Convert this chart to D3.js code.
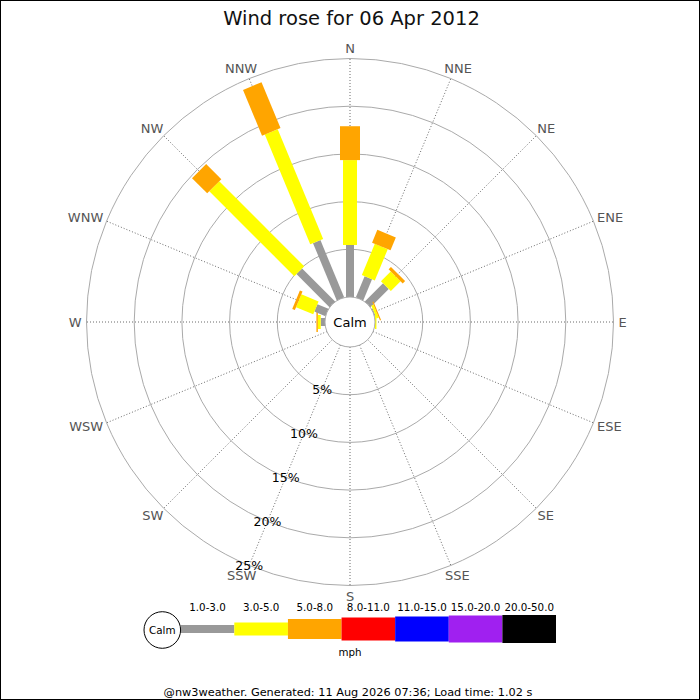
<!DOCTYPE html>
<html>
<head>
<meta charset="utf-8">
<script src="https://cdn.jsdelivr.net/npm/d3@7"></script>
<style>
  body { margin: 0; background: #fff; }
  svg { display: block; font-family: "DejaVu Sans", sans-serif; }
</style>
</head>
<body>
<div id="chart"></div>
<script>
// Compass points, clockwise from north
const directions = ["N", "NNE", "NE", "ENE", "E", "ESE", "SE", "SSE",
                    "S", "SSW", "SW", "WSW", "W", "WNW", "NW", "NNW"];
const speedBins = ["1.0-3.0", "3.0-5.0", "5.0-8.0", "8.0-11.0", "11.0-15.0", "15.0-20.0", "20.0-50.0"];

// % of time per direction, one array per speed bin (same order as directions)
const bin1to3   = [5.45, 2.4, 2.7, 0.1, 0, 0, 0, 0, 0, 0, 0, 0, 0.45, 1.25, 4.9, 6.5];
const bin3to5   = [8.9, 3.55, 1.45, 0.25, 0.15, 0, 0, 0, 0, 0, 0, 0, 0.3, 1.95, 12.6, 12.45];
const bin5to8   = [3.55, 1.45, 0.35, 0.12, 0, 0, 0, 0, 0, 0, 0, 0, 0.15, 0.3, 2.25, 5.2];
const bin8to11  = [0, 0, 0, 0, 0, 0, 0, 0, 0, 0, 0, 0, 0, 0, 0, 0];
const bin11to15 = [0, 0, 0, 0, 0, 0, 0, 0, 0, 0, 0, 0, 0, 0, 0, 0];
const bin15to20 = [0, 0, 0, 0, 0, 0, 0, 0, 0, 0, 0, 0, 0, 0, 0, 0];
const bin20to50 = [0, 0, 0, 0, 0, 0, 0, 0, 0, 0, 0, 0, 0, 0, 0, 0];

const pctTicks = [5, 10, 15, 20, 25];

const title = "Wind rose for 06 Apr 2012";
const footer = "@nw3weather. Generated: 11 Aug 2026 07:36; Load time: 1.02 s";

const width = 700, height = 700;
const cx = 350, cy = 322;
const calmR = 25, outerR = 263.5;
const binColors = ["#999999", "#ffff00", "#ffa500", "#ff0000", "#0000ff", "#a020f0", "#000000"];
const barWidths = [8, 14, 20, 23, 25, 27, 28];
const legendHeights = [8, 13, 20, 23, 25, 27, 28];

const series = [bin1to3, bin3to5, bin5to8, bin8to11, bin11to15, bin15to20, bin20to50];

const svg = d3.select("#chart").append("svg")
    .attr("width", width)
    .attr("height", height);

svg.append("rect")
    .attr("x", 0.5).attr("y", 0.5)
    .attr("width", width - 1).attr("height", height - 1)
    .attr("fill", "#fff")
    .attr("stroke", "#000");

// radius scale: percent -> px, starting at the calm circle
const r = d3.scaleLinear().domain([0, 25]).range([calmR, outerR]);
const angle = d3.scalePoint().domain(directions).range([0, 360 - 22.5]);

const g = svg.append("g").attr("transform", `translate(${cx},${cy})`);

// rings
g.selectAll(".ring")
    .data(pctTicks)
    .enter().append("circle")
    .attr("r", d => r(d))
    .attr("fill", "none")
    .attr("stroke", "#aaa")
    .attr("stroke-width", 1);

// spokes
const rad = d => angle(d) * Math.PI / 180;
g.selectAll(".spoke")
    .data(directions)
    .enter().append("line")
    .attr("x1", d => Math.sin(rad(d)) * calmR)
    .attr("y1", d => -Math.cos(rad(d)) * calmR)
    .attr("x2", d => Math.sin(rad(d)) * outerR)
    .attr("y2", d => -Math.cos(rad(d)) * outerR)
    .attr("stroke", "#444")
    .attr("stroke-width", 0.8)
    .attr("stroke-dasharray", "1,2");

// direction labels, pushed out so the box sits just outside the ring
g.selectAll(".dirlabel")
    .data(directions)
    .enter().append("text")
    .attr("font-size", "13px")
    .attr("fill", "#555")
    .attr("text-anchor", "middle")
    .attr("dominant-baseline", "central")
    .text(d => d)
    .each(function (d) {
        const w = this.getComputedTextLength();
        const ux = Math.sin(rad(d)), uy = -Math.cos(rad(d));
        d3.select(this)
            .attr("x", ux * (outerR + 5) + ux * w / 2)
            .attr("y", uy * (outerR + 5) + uy * 5.5);
    });

// stacked bars
const stacks = directions.map((dir, i) => {
    let start = 0;
    return series.map((s, b) => {
        const seg = { dir, bin: b, start, end: start + s[i] };
        start += s[i];
        return seg;
    }).filter(seg => seg.end > seg.start);
});

g.selectAll(".dir")
    .data(stacks)
    .enter().append("g")
    .attr("transform", (d, i) => `rotate(${angle(directions[i])})`)
    .selectAll("rect")
    .data(d => d)
    .enter().append("rect")
    .attr("x", d => -barWidths[d.bin] / 2)
    .attr("width", d => barWidths[d.bin])
    .attr("y", d => -r(d.end))
    .attr("height", d => r(d.end) - r(d.start))
    .attr("fill", d => binColors[d.bin]);

// calm circle
g.append("circle")
    .attr("r", calmR)
    .attr("fill", "#fff")
    .attr("stroke", "#aaa");
g.append("text")
    .attr("text-anchor", "middle")
    .attr("dominant-baseline", "central")
    .attr("font-size", "13px")
    .attr("fill", "#000")
    .text("Calm");

// percent labels along SSW spoke
const labelRad = angle("SSW") * Math.PI / 180;
g.selectAll(".pct")
    .data(pctTicks)
    .enter().append("text")
    .attr("x", d => Math.sin(labelRad) * r(d))
    .attr("y", d => -Math.cos(labelRad) * r(d))
    .attr("text-anchor", "middle")
    .attr("dominant-baseline", "central")
    .attr("font-size", "12.5px")
    .attr("fill", "#000")
    .text(d => d + "%");

// title
svg.append("text")
    .attr("x", 351.5)
    .attr("y", 25)
    .attr("text-anchor", "middle")
    .attr("font-size", "19.5px")
    .attr("fill", "#111")
    .text(title);

// legend
const lx = d3.scaleBand().domain(speedBins).range([180.7, 556]);
const legendY = 629;
const legend = svg.append("g");

legend.selectAll("rect")
    .data(speedBins)
    .enter().append("rect")
    .attr("x", d => lx(d))
    .attr("width", lx.bandwidth())
    .attr("y", (d, i) => legendY - legendHeights[i] / 2)
    .attr("height", (d, i) => legendHeights[i])
    .attr("fill", (d, i) => binColors[i]);

legend.selectAll(".lbl")
    .data(speedBins)
    .enter().append("text")
    .attr("x", d => lx(d) + lx.bandwidth() / 2)
    .attr("y", 610.5)
    .attr("text-anchor", "middle")
    .attr("font-size", "10.3px")
    .attr("fill", "#000")
    .text(d => d);

legend.append("circle")
    .attr("cx", 162.3).attr("cy", 630)
    .attr("r", 18.3)
    .attr("fill", "#fff")
    .attr("stroke", "#000");
legend.append("text")
    .attr("x", 162.3).attr("y", 630)
    .attr("text-anchor", "middle")
    .attr("dominant-baseline", "central")
    .attr("font-size", "10.4px")
    .text("Calm");

legend.append("text")
    .attr("x", 350).attr("y", 656)
    .attr("text-anchor", "middle")
    .attr("font-size", "10.3px")
    .text("mph");

svg.append("text")
    .attr("x", 348).attr("y", 696)
    .attr("text-anchor", "middle")
    .attr("font-size", "11.3px")
    .attr("fill", "#000")
    .text(footer);
</script>
</body>
</html>
